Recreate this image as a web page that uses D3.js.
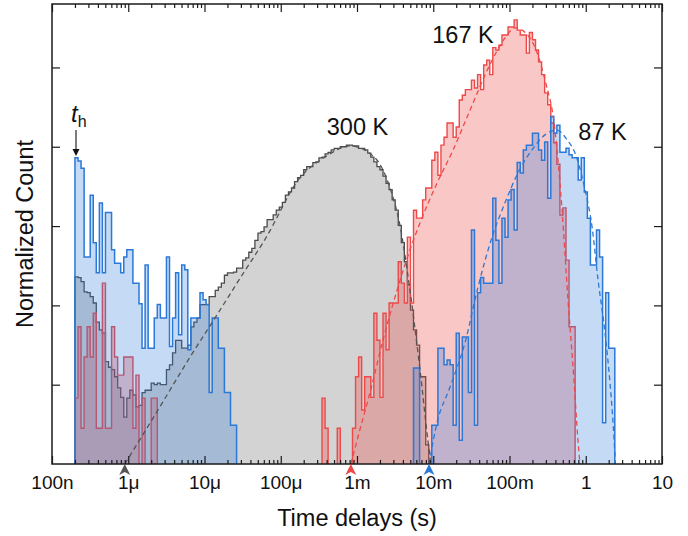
<!DOCTYPE html>
<html><head><meta charset="utf-8">
<script src="https://cdn.jsdelivr.net/npm/d3@7"></script>
<style>
body{margin:0;background:#fff}
svg{display:block}
text{font-family:"Liberation Sans",Arial,Helvetica,sans-serif}
</style>
</head><body>
<svg id="chart" width="688" height="536"></svg>
<script>
// ---------- DATA ----------
const binStart = 2e-7;          // left edge of first histogram bin (s)
const binsPerDecade = 25;       // logarithmic bin width

// 300 K histogram (normalized counts, one value per bin)
const k300 = [
 2.36,2.35,2.30,2.17,2.16,2.11,2.03,1.79,1.69,1.65,
 1.29,1.22,1.19,1.10,0.96,0.84,0.59,0.83,0.93,0.87,
 0.72,0.74,0.90,0.93,0.93,1.02,1.00,1.02,1.00,1.00,
 1.19,1.25,1.40,1.56,1.56,1.46,1.46,1.50,1.73,1.79,
 1.84,2.01,2.01,2.01,2.11,2.11,2.19,2.23,2.28,2.38,
 2.41,2.41,2.42,2.47,2.47,2.57,2.60,2.67,2.72,2.82,
 2.91,2.93,2.99,3.08,3.08,3.14,3.20,3.24,3.30,3.39,
 3.43,3.48,3.56,3.61,3.64,3.71,3.75,3.75,3.80,3.81,
 3.86,3.87,3.91,3.93,3.96,3.98,3.98,4.00,4.00,4.02,
 4.02,4.01,4.01,3.98,3.98,3.96,3.92,3.87,3.81,3.75,
 3.71,3.63,3.54,3.46,3.33,3.20,3.01,2.79,2.55,2.26,
 1.94,1.69,1.50,1.10,1.10,0.24
];

// 167 K histogram
const k167 = [
 0.83,1.73,0.45,1.35,1.73,1.35,1.90,0.45,0.45,2.28,
 0.45,0.45,1.73,1.35,1.12,1.12,1.35,1.35,1.35,0.45,
 1.12,0,0.83,0,0,0.83,0.83,0,0,0,
 0,0,0,0,0,0,0,0,0,0,
 0,0,0,0,0,0,0,0,0,0,
 0,0,0,0,0,0,0,0,0,0,
 0,0,0,0,0,0,0,0,0,0,
 0,0,0,0,0,0,0,0,0,0,
 0,0.83,0.45,0,0,0,0.45,0,0,0,
 0,0.45,1.10,1.35,0.68,1.10,1.10,0.84,1.90,1.56,
 0.84,1.90,1.44,2.03,2.03,2.03,2.55,2.28,2.03,2.86,
 2.03,3.20,3.10,3.10,3.33,3.48,3.48,3.83,3.93,3.64,
 4.02,4.12,4.30,4.30,4.12,4.25,4.59,4.65,4.72,4.72,
 4.84,4.74,4.91,4.72,5.03,5.09,4.91,5.25,5.22,5.28,
 5.41,5.41,5.51,5.51,5.60,5.47,5.41,5.41,5.18,5.44,
 5.35,5.22,5.07,4.91,4.68,4.53,4.30,4.05,3.78,3.14,
 3.23,2.57,1.73,1.73
];

// 87 K histogram
const k87 = [
 3.86,3.82,3.73,2.61,2.61,3.39,2.79,2.41,3.29,2.41,
 3.17,3.17,2.70,2.53,2.53,2.41,2.61,2.70,2.70,2.28,
 2.28,2.02,1.46,2.51,1.46,1.46,1.84,2.01,1.84,1.84,
 2.61,1.48,1.84,2.41,1.63,2.51,2.45,1.44,1.84,1.84,
 1.84,2.16,2.07,2.01,0.90,1.84,1.84,1.46,1.46,0.90,
 0.90,0.49,0.49,0,0,0,0,0,0,0,
 0,0,0,0,0,0,0,0,0,0,
 0,0,0,0,0,0,0,0,0,0,
 0,0,0,0,0,0,0,0,0,0,
 0,0,0,0,0,0,0,0,0,0,
 0,0,0,0,0,0,0,0,0,0,
 0,1.21,1.21,0,0,0,0,0.49,0.49,1.46,
 1.46,1.25,1.31,1.25,0.49,1.65,0.30,1.60,1.60,0.90,
 2.95,0.49,2.16,2.35,2.28,2.28,2.28,3.35,2.82,2.28,
 3.10,2.86,3.33,3.46,2.95,3.80,3.67,3.96,4.02,4.02,
 4.17,4.17,3.96,3.83,4.06,3.35,4.38,4.17,4.27,3.93,
 3.93,3.98,3.90,3.86,3.86,3.58,3.86,3.43,3.10,2.51,
 2.51,2.95,2.61,0.52,2.16,1.46,1.46
];

// fitted distributions (dashed), time in s and normalized count
const fit300T = [9.0e-7,1.75e-6,3.0e-6,6.1e-6,1.29e-5,3.2e-5,6.2e-5,1.79e-4,3.8e-4,8.1e-4,1.72e-3,2.71e-3,3.66e-3,4.95e-3,6.7e-3,8.5e-3,9.3e-3];
const fit300V = [0,0.45,0.82,1.31,1.80,2.40,2.83,3.61,3.87,4.01,3.86,3.48,3.01,2.19,1.19,0.30,0];
const fit167T = [8.3e-4,1.09e-3,1.48e-3,2.19e-3,3.35e-3,4.95e-3,6.7e-3,1.12e-2,1.82e-2,3.03e-2,5.5e-2,8.7e-2,0.118,0.186,0.292,0.395,0.489,0.585,0.701,0.79,0.84];
const fit167V = [0,0.43,0.90,1.56,2.19,2.70,3.04,3.54,3.96,4.46,5.03,5.37,5.50,5.37,4.84,4.21,3.20,2.07,1.06,0.30,0];
const fit87T = [8.8e-3,1.12e-2,1.66e-2,2.61e-2,3.86e-2,5.9e-2,8.7e-2,0.129,0.197,0.292,0.42,0.567,0.723,0.977,1.21,1.45,1.79,2.08,2.30,2.45];
const fit87V = [0,0.52,0.97,1.53,2.23,2.86,3.29,3.67,3.96,4.15,4.21,4.09,3.92,3.46,2.99,2.32,1.65,1.02,0.47,0];

const seriesLabels = ["300 K","167 K","87 K"];
const xTickValues = [1e-7,1e-6,1e-5,1e-4,1e-3,1e-2,1e-1,1,10];
const xTickLabels = ["100n","1μ","10μ","100μ","1m","10m","100m","1","10"];
const yTickValues = [1,2,3,4,5];
const xTitle = "Time delays (s)";
const yTitle = "Normalized Count";

// ---------- CHART ----------
const svg = d3.select("#chart");
const x = d3.scaleLog().domain([1e-7, 10]).range([52, 662]);
const y = d3.scaleLinear().domain([0, 5.8]).range([464, 4]);

const edge = i => binStart * Math.pow(10, i / binsPerDecade);

function runs(vals){
  const out = []; let cur = null;
  vals.forEach((v,i) => {
    if (v > 0){ if(!cur){ cur = []; out.push(cur);} cur.push({i, v}); }
    else cur = null;
  });
  return out;
}
function stepPts(run){
  const pts = [[edge(run[0].i), 0]];
  run.forEach(b => { pts.push([edge(b.i), b.v]); pts.push([edge(b.i+1), b.v]); });
  pts.push([edge(run[run.length-1].i + 1), 0]);
  return pts;
}

const area = d3.area().x(d => x(d[0])).y0(y(0)).y1(d => y(d[1]));
const line = d3.line().x(d => x(d[0])).y(d => y(d[1]));

const series = [
  {vals: k300, fill: "#d3d3d3", stroke: "#4b4b4b", sw: 1.3},
  {vals: k167, fill: "rgba(240,70,70,0.30)", stroke: "#ef4848", sw: 1.4},
  {vals: k87,  fill: "rgba(42,122,218,0.28)", stroke: "#2a78d8", sw: 1.5}
];

const gH = svg.append("g");
series.forEach(s => {
  runs(s.vals).forEach(r => {
    const pts = stepPts(r);
    gH.append("path").attr("d", area(pts)).attr("fill", s.fill).attr("stroke", "none");
    gH.append("path").attr("d", line(pts)).attr("fill", "none")
      .attr("stroke", s.stroke).attr("stroke-width", s.sw).attr("stroke-linejoin", "miter");
  });
});

// fits
const fitLine = d3.line().x(d => x(d[0])).y(d => y(d[1])).curve(d3.curveMonotoneX);
const fits = [
  {t: fit300T, v: fit300V, c: "#555555"},
  {t: fit167T, v: fit167V, c: "#ef4848"},
  {t: fit87T,  v: fit87V,  c: "#2a78d8"}
];
fits.forEach(f => {
  const pts = f.t.map((t,i) => [t, f.v[i]]);
  svg.append("path").attr("d", fitLine(pts)).attr("fill", "none")
    .attr("stroke", f.c).attr("stroke-width", 1.3).attr("stroke-dasharray", "5,3.5");
});

// axes
const minor = [];
for (let e = -7; e <= 0; e++) for (let k = 2; k <= 9; k++) minor.push(k * Math.pow(10, e));

function styleAxis(g){
  g.select(".domain").remove();
  g.selectAll(".tick line").attr("stroke", "#1a1a1a").attr("stroke-width", 1.2);
}
svg.append("g").attr("transform", "translate(0,464)")
  .call(d3.axisBottom(x).tickValues(xTickValues).tickSize(-8).tickPadding(12)
        .tickFormat((d,i) => xTickLabels[i]))
  .call(styleAxis)
  .call(g => g.selectAll("text").attr("font-size", 19).attr("fill", "#111")
        .attr("font-family", '"Liberation Sans",Arial,sans-serif'));
svg.append("g").attr("transform", "translate(0,464)")
  .call(d3.axisBottom(x).tickValues(minor).tickSize(-4).tickFormat("")).call(styleAxis);
svg.append("g").attr("transform", "translate(0,4)")
  .call(d3.axisTop(x).tickValues(xTickValues).tickSize(-8).tickFormat("")).call(styleAxis);
svg.append("g").attr("transform", "translate(0,4)")
  .call(d3.axisTop(x).tickValues(minor).tickSize(-4).tickFormat("")).call(styleAxis);
svg.append("g").attr("transform", "translate(52,0)")
  .call(d3.axisLeft(y).tickValues(yTickValues).tickSize(-8).tickFormat("")).call(styleAxis);
svg.append("g").attr("transform", "translate(662,0)")
  .call(d3.axisRight(y).tickValues(yTickValues).tickSize(-8).tickFormat("")).call(styleAxis);

svg.append("rect").attr("x", 52).attr("y", 4).attr("width", 610).attr("height", 460)
  .attr("fill", "none").attr("stroke", "#1a1a1a").attr("stroke-width", 1.5);

// onset markers
fits.forEach(f => {
  svg.append("path").attr("transform", `translate(${x(f.t[0])},464)`)
    .attr("d", "M0,0 L5.5,11 L0,8 L-5.5,11 Z").attr("fill", f.c);
});

// titles
svg.append("text").attr("x", 357).attr("y", 526).attr("text-anchor", "middle")
  .attr("font-size", 23.5).attr("fill", "#111").text(xTitle);
svg.append("text").attr("transform", "translate(32.5,234) rotate(-90)").attr("text-anchor", "middle")
  .attr("font-size", 23.5).attr("fill", "#111").text(yTitle);

// series labels
const labelPos = [[357.5,135],[463,43],[602.5,140]];
seriesLabels.forEach((s,i) => {
  svg.append("text").attr("x", labelPos[i][0]).attr("y", labelPos[i][1]).attr("text-anchor", "middle")
    .attr("font-size", 23.5).attr("fill", "#111").text(s);
});

// t_h annotation
const th = svg.append("text").attr("x", 71).attr("y", 122).attr("fill", "#111");
th.append("tspan").attr("font-style", "italic").attr("font-size", 24).text("t");
th.append("tspan").attr("font-size", 16).attr("dy", 5).text("h");
svg.append("line").attr("x1", 76).attr("x2", 76).attr("y1", 130).attr("y2", 150)
  .attr("stroke", "#111").attr("stroke-width", 1.1);
svg.append("path").attr("d", "M72.5,149 L79.5,149 L76,156 Z").attr("fill", "#111");
</script>
</body></html>
